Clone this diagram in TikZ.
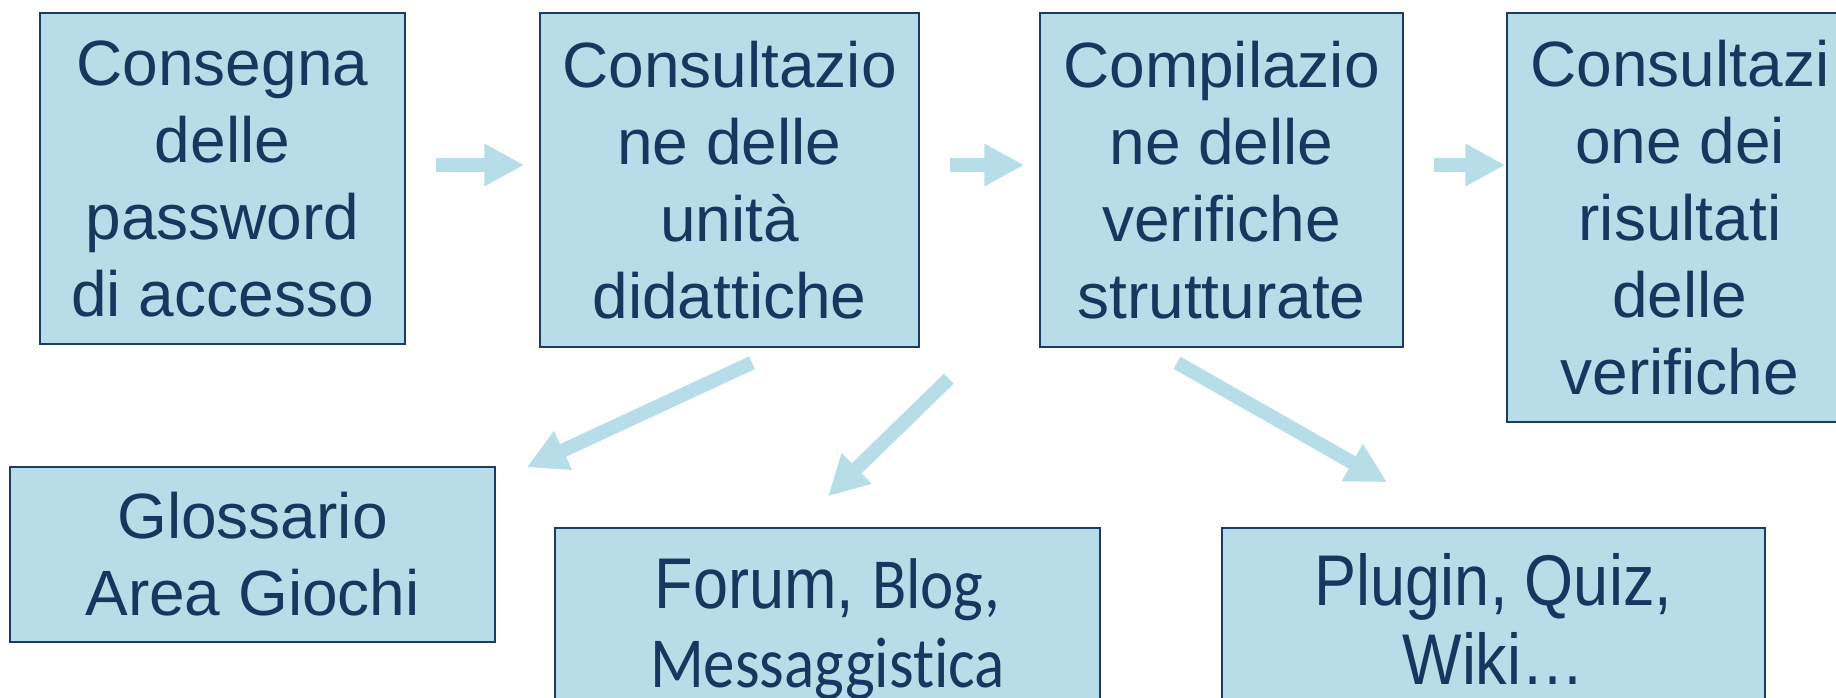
\documentclass[tikz,border=0pt]{standalone}
\usepackage{fontspec}
\usepackage{graphicx}
\setmainfont{Liberation Sans}
\newfontfamily\calibri[Ligatures=NoCommon]{Carlito}
\usetikzlibrary{arrows.meta}
\definecolor{celeste}{HTML}{B7DEE8}
\definecolor{blunotte}{HTML}{17375E}
\definecolor{bordo}{HTML}{1F3B64}
\newcommand{\allunga}[1]{\scalebox{1}[1.14]{#1}}% testo stirato in verticale
\tikzset{
  box/.style = {rectangle, draw=bordo, line width=1.5pt, fill=celeste,
    text=blunotte, align=center, inner sep=0pt,
    font=\fontsize{64}{77}\selectfont},% riquadro, testo grande
  box_b/.style = {box, font=\fontsize{63}{79}\selectfont},% riquadro in basso
  freccia/.style = {draw=celeste, line width=14pt,
    -{Triangle[width=40pt, length=40pt]}}% freccia piena
}

\begin{document}
\begin{tikzpicture}[x=1pt, y=-1pt]
\useasboundingbox (0,0) rectangle (1836,698);
\clip (0,0) rectangle (1836,698);
% riga in alto
\node [box, minimum width=365pt, minimum height=331pt] (consegna) at (222.5,178.5)
  {Consegna\\delle\\password\\di accesso};
\node [box, minimum width=379pt, minimum height=334pt] (unita) at (729.5,180)
  {Consultazio\\ne delle\\unità\\didattiche};
\node [box, minimum width=363pt, minimum height=334pt] (verifiche) at (1221.5,180)
  {Compilazio\\ne delle\\verifiche\\strutturate};
\node [box, minimum width=346pt, minimum height=409pt] (risultati) at (1680,217.5)
  {Consultazi\\one dei\\risultati\\delle\\verifiche};
% riga in basso
\node [box, minimum width=485pt, minimum height=175pt] (glossario) at (252.5,554.5)
  {Glossario\\Area Giochi};
\node [box_b, minimum width=545pt, minimum height=202pt] (forum) at (827.5,629)
  {\allunga{Forum, {\calibri Blog,}}\\\allunga{\calibri Messaggistica}};
\node [box_b, minimum width=543pt, minimum height=182pt] (plugin) at (1493.5,619)
  {\allunga{Plugin, Quiz,}\\\allunga{Wiki…}};

\draw [freccia] ([xshift=30pt, yshift=13.5pt]consegna.east)
  -- ([xshift=-15pt, yshift=15pt]unita.west);
\draw [freccia] ([xshift=30pt, yshift=15pt]unita.east)
  -- ([xshift=-15pt, yshift=15pt]verifiche.west);
\draw [freccia] ([xshift=30pt, yshift=15pt]verifiche.east)
  -- ([xshift=-1pt, yshift=52.5pt]risultati.west);
\draw [freccia] ([xshift=22.5pt, yshift=-15pt]unita.south)
  -- ([xshift=31pt, yshift=-1pt]glossario.north east);
\draw [freccia] ([xshift=29pt, yshift=-31pt]unita.south east)
  -- ([xshift=0.5pt, yshift=31pt]forum.north);
\draw [freccia] ([xshift=-44.5pt, yshift=-15pt]verifiche.south)
  -- ([xshift=-106.5pt, yshift=45pt]plugin.north);
\end{tikzpicture}
\end{document}
